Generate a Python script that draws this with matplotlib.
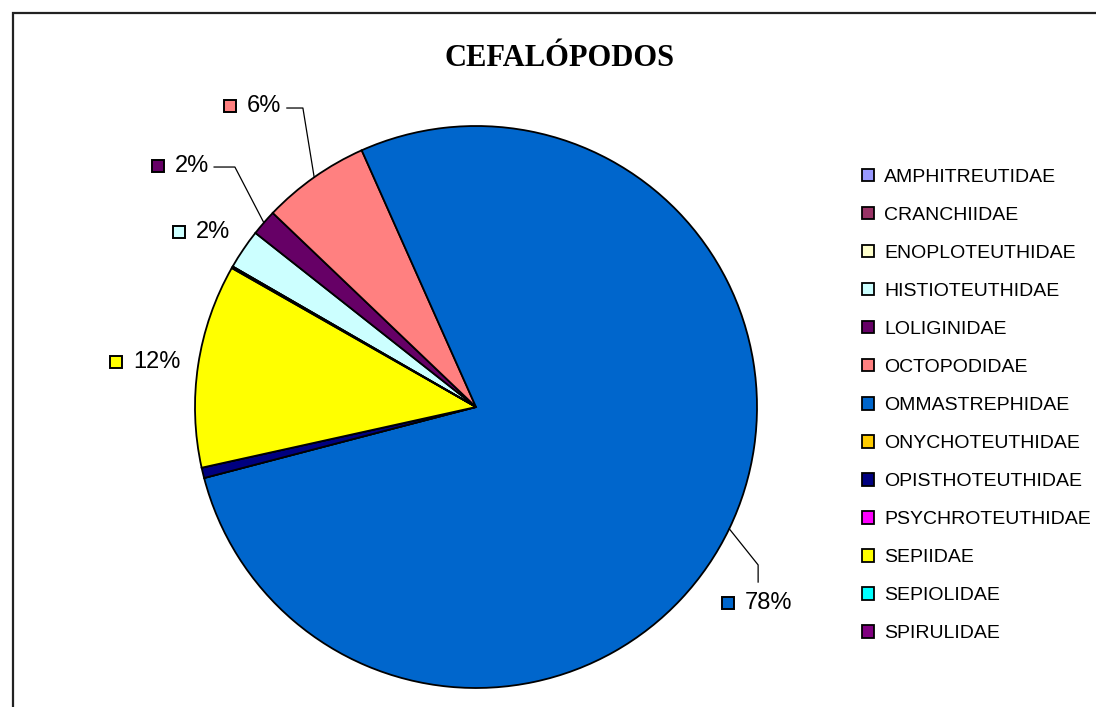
import matplotlib
matplotlib.use("Agg")
import matplotlib.pyplot as plt
from matplotlib.patches import Rectangle
import numpy as np

# Cephalopod families and their share of the catch (%)
families = [
    "AMPHITREUTIDAE", "CRANCHIIDAE", "ENOPLOTEUTHIDAE", "HISTIOTEUTHIDAE",
    "LOLIGINIDAE", "OCTOPODIDAE", "OMMASTREPHIDAE", "ONYCHOTEUTHIDAE",
    "OPISTHOTEUTHIDAE", "PSYCHROTEUTHIDAE", "SEPIIDAE", "SEPIOLIDAE",
    "SPIRULIDAE",
]
shares = [0.0, 0.0, 0.0, 2.3, 1.5, 6.2, 77.6, 0.0, 0.6, 0.0, 11.7, 0.1, 0.0]
colors = [
    "#9999FF", "#993366", "#FFFFCC", "#CCFFFF", "#660066", "#FF8080",
    "#0066CC", "#FFCC00", "#000080", "#FF00FF", "#FFFF00", "#00FFFF",
    "#800080",
]
# Families whose percentage is printed next to the pie
labelled = ["OMMASTREPHIDAE", "SEPIIDAE", "HISTIOTEUTHIDAE", "LOLIGINIDAE", "OCTOPODIDAE"]
label_text = {"OMMASTREPHIDAE": "78%", "SEPIIDAE": "12%", "HISTIOTEUTHIDAE": "2%",
              "LOLIGINIDAE": "2%", "OCTOPODIDAE": "6%"}

W, H = 1096, 707
fig = plt.figure(figsize=(W / 100, H / 100), dpi=100)
fig.patch.set_facecolor("white")

# chart frame
fig.patches.append(Rectangle((13 / W, -0.01), 1.1, 1 - 13 / H + 0.01,
                             transform=fig.transFigure, fill=False,
                             edgecolor="#222222", linewidth=1.6))

cx, cy, r = 476, 407, 281
ax = fig.add_axes([(cx - r) / W, (H - cy - r) / H, 2 * r / W, 2 * r / H])
wedges, _ = ax.pie(shares, colors=colors, startangle=150, counterclock=False,
                   wedgeprops=dict(edgecolor="black", linewidth=1.3))
ax.set_xlim(-1, 1)
ax.set_ylim(-1, 1)
ax.set_aspect("auto")
ax.axis("off")

# label anchors (square marker position) and leader-line elbows
label_pos = {
    "OMMASTREPHIDAE": (0.897, -0.698),
    "SEPIIDAE": (-1.281, 0.160),
    "HISTIOTEUTHIDAE": (-1.057, 0.623),
    "LOLIGINIDAE": (-1.132, 0.858),
    "OCTOPODIDAE": (-0.875, 1.071),
}
leaders = {
    "OMMASTREPHIDAE": [(1.004, -0.623), (1.004, -0.562)],
    "LOLIGINIDAE": [(-0.932, 0.854), (-0.858, 0.854)],
    "OCTOPODIDAE": [(-0.673, 1.064), (-0.616, 1.064)],
}

for name in labelled:
    i = families.index(name)
    w = wedges[i]
    mid = np.deg2rad((w.theta1 + w.theta2) / 2)
    edge = (np.cos(mid), np.sin(mid))
    if name in leaders:
        pts = leaders[name] + [edge]
        ax.plot([p[0] for p in pts], [p[1] for p in pts], color="black",
                linewidth=0.9, clip_on=False)
    x, y = label_pos[name]
    ax.plot([x], [y], marker="s", markersize=8.5, markerfacecolor=colors[i],
            markeredgecolor="black", markeredgewidth=1.4, clip_on=False)
    ax.text(x + 0.06, y, label_text[name], fontsize=17, family="Liberation Sans",
            va="center", ha="left", clip_on=False)

fig.text(560 / W, 1 - 66 / H, "CEFALÓPODOS", family="Liberation Serif",
         fontweight="bold", fontsize=22, ha="center", va="baseline")

leg = fig.legend(wedges, families, loc="upper left",
                 bbox_to_anchor=(862 / W, 1 - 169 / H), frameon=False,
                 prop=dict(family="Liberation Sans", size=14),
                 handlelength=0.6, handleheight=0.6, handletextpad=0.55,
                 labelspacing=1.08, borderpad=0, borderaxespad=0)
for h in leg.legend_handles:
    h.set_edgecolor("black")
    h.set_linewidth(1.3)

fig.savefig("out.png", dpi=100, facecolor="white")
